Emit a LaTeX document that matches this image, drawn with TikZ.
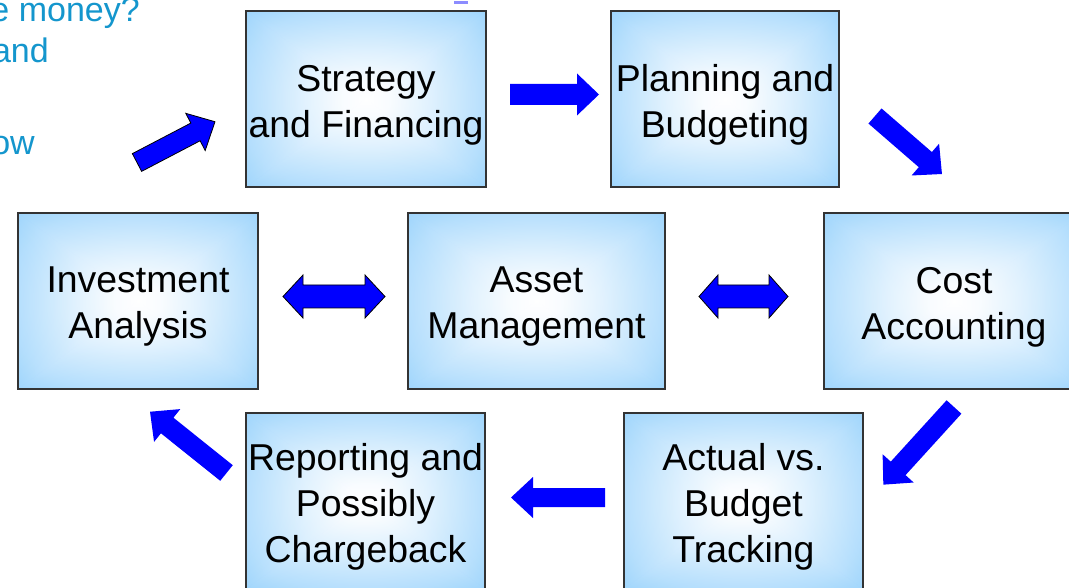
\documentclass[tikz,border=0pt]{standalone}
\usepackage{fontspec}
\setmainfont{Liberation Sans}
\definecolor{boxblue}{RGB}{140,205,252}
\definecolor{arrowblue}{RGB}{0,0,255}
\definecolor{slideblue}{RGB}{20,150,205}
\pgfdeclareradialshading{boxshade}{\pgfpoint{0bp}{0bp}}{color(0bp)=(white); color(5bp)=(white); color(28bp)=(boxblue!50!white); color(44bp)=(boxblue); color(100bp)=(boxblue)}
% block arrow: style, tail x, tail y, angle, length, shaft half, head half, head length
\newcommand\blockarrow[8]{\begin{scope}[shift={(#2,#3)},rotate=#4]
\path[#1] (0,-#6) -- ({#5-#8},-#6) -- ({#5-#8},-#7) -- (#5,0) -- ({#5-#8},#7) -- ({#5-#8},#6) -- (0,#6) -- cycle;
\end{scope}}
% double arrow: style, x1, x2, y, shaft half, head half, head length
\newcommand\dblarrow[7]{\path[#1] (#2,#4) -- ({#2+#7},{#4-#6}) -- ({#2+#7},{#4-#5}) -- ({#3-#7},{#4-#5}) -- ({#3-#7},{#4-#6}) -- (#3,#4) -- ({#3-#7},{#4+#6}) -- ({#3-#7},{#4+#5}) -- ({#2+#7},{#4+#5}) -- ({#2+#7},{#4+#6}) -- cycle;}
\tikzset{
  gbox/.style={draw=black!80, line width=1.8pt, inner sep=0pt, minimum height=176,
    shading=boxshade,
    path picture={
      \begin{scope}[opacity=0.35]
      \shade[top color=boxblue,bottom color=white,middle color=boxblue!40!white]
        (path picture bounding box.north west) -- (path picture bounding box.north east) -- (path picture bounding box.center) -- cycle;
      \shade[bottom color=boxblue,top color=white,middle color=boxblue!40!white]
        (path picture bounding box.south west) -- (path picture bounding box.south east) -- (path picture bounding box.center) -- cycle;
      \shade[left color=boxblue,right color=white,middle color=boxblue!40!white]
        (path picture bounding box.north west) -- (path picture bounding box.south west) -- (path picture bounding box.center) -- cycle;
      \shade[right color=boxblue,left color=white,middle color=boxblue!40!white]
        (path picture bounding box.north east) -- (path picture bounding box.south east) -- (path picture bounding box.center) -- cycle;
      \end{scope}
    }},
  btext/.style={align=center, inner sep=0pt, yshift=-6pt, font=\fontsize{37.4}{46}\selectfont},
  plainarrow/.style={fill=arrowblue},
  linedarrow/.style={fill=arrowblue, draw=black, line width=0.8pt},
  slidetext/.style={anchor=base east, inner sep=0pt, text=slideblue, font=\fontsize{34}{40}\selectfont}
}
\begin{document}
\begin{tikzpicture}[x=1pt,y=-1pt]
\useasboundingbox (0,0) rectangle (1069,588);
\clip (0,0) rectangle (1069,588);
\fill[white] (0,0) rectangle (1069,588);

% partial slide text
\node[slidetext] (t1) at (140,22) {e money?};
\node[slidetext] (t2) at (49,63) {and};
\node[slidetext] (t3) at (35,155) {ow};
\fill[blue!45!white] (454,1) rectangle (468,4);

% boxes
\node[gbox,minimum width=240,label={[btext]center:Strategy\\and Financing}] (strat) at (366,99) {};
\node[gbox,minimum width=228,label={[btext]center:Planning and\\Budgeting}] (plan) at (725,99) {};
\node[gbox,minimum width=240,label={[btext]center:Investment\\Analysis}] (invest) at (138,301) {};
\node[gbox,minimum width=257,label={[btext]center:Asset\\Management}] (asset) at (536.5,301) {};
\node[gbox,minimum width=260,label={[btext]center:Cost\\Accounting}] (cost) at (954,301) {};
\node[gbox,minimum width=239,label={[btext]center:Actual vs.\\Budget\\Tracking}] (actual) at (743.5,501) {};
\node[gbox,minimum width=239,label={[btext]center:Reporting and\\Possibly\\Chargeback}] (report) at (365.5,501) {};

% cycle arrows
\blockarrow{linedarrow}{137}{162.5}{27.6}{88}{10}{21}{22}
\blockarrow{plainarrow}{510}{94.5}{0}{89}{10.5}{21}{22}
\blockarrow{plainarrow}{875}{116}{-40.9}{88.6}{10}{21}{22}
\blockarrow{plainarrow}{954}{407}{227.7}{105}{10}{21}{22}
\blockarrow{plainarrow}{605}{497.5}{180}{94}{9.5}{20.5}{22}
\blockarrow{plainarrow}{226.5}{473}{141.3}{98}{10}{21}{22}

% double arrows
\dblarrow{linedarrow}{283}{385}{296.5}{11.5}{21.5}{20}
\dblarrow{linedarrow}{699}{788}{296.5}{11.5}{21.5}{19}
\end{tikzpicture}
\end{document}
